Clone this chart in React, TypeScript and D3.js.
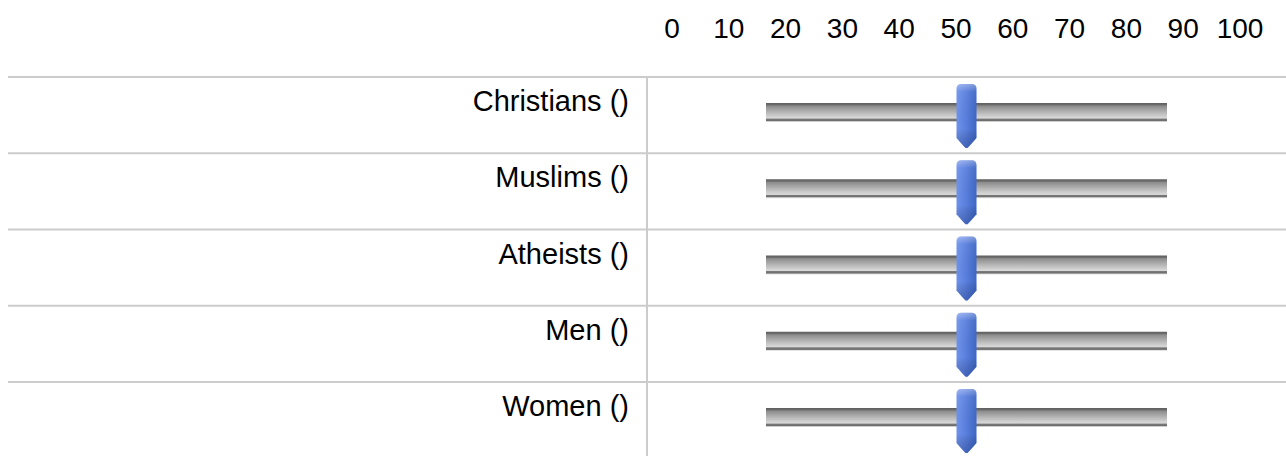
import React from 'react';
import * as d3 from 'd3';

// slider rows: group label and the position of the handle (0-100)
const categories = ['Christians ()', 'Muslims ()', 'Atheists ()', 'Men ()', 'Women ()'];
const values = [50, 50, 50, 50, 50];
const tickLabels = [0, 10, 20, 30, 40, 50, 60, 70, 80, 90, 100];

const W = 1286;
const H = 456;
const FONT = '"Liberation Sans", Arial, Helvetica, sans-serif';

const App: React.FC = () => {
  const tableTop = 77;
  const rowH = 76.25;
  const divider = 647;

  // header scale (labels above the table)
  const header = d3.scaleLinear().domain([0, 100]).range([672, 1240]);
  // slider track scale
  const x = d3.scaleLinear().domain([0, 100]).range([766, 1167]);

  const rowY = (i: number) => tableTop + i * rowH;

  const handlePath = (cx: number, top: number) => {
    const w = 20;
    const l = cx - w / 2;
    const r = cx + w / 2;
    const rad = 5;
    const sideBottom = top + 54;
    const tip = top + 64;
    return `M${l},${top + rad} Q${l},${top} ${l + rad},${top} L${r - rad},${top} Q${r},${top} ${r},${top + rad} L${r},${sideBottom} Q${cx + 4},${tip - 3} ${cx + 1},${tip} L${cx - 1},${tip} Q${cx - 4},${tip - 3} ${l},${sideBottom} Z`;
  };

  return (
    <svg
      width={W}
      height={H}
      style={{position: 'absolute', left: 0, top: 0, background: '#fff'}}
    >
      <defs>
        <linearGradient id="track-grad" x1="0" y1="0" x2="0" y2="1">
          <stop offset="0%" stopColor="#5e5e5e" />
          <stop offset="11%" stopColor="#6e6e6e" />
          <stop offset="16%" stopColor="#8c8c8c" />
          <stop offset="55%" stopColor="#bdbdbd" />
          <stop offset="80%" stopColor="#dadada" />
          <stop offset="84%" stopColor="#7a7a7a" />
          <stop offset="93%" stopColor="#6c6c6c" />
          <stop offset="96%" stopColor="#c4c4c4" />
          <stop offset="100%" stopColor="#e4e4e4" />
        </linearGradient>
        <linearGradient id="handle-h" x1="0" y1="0" x2="1" y2="0">
          <stop offset="0%" stopColor="#6f93ec" />
          <stop offset="45%" stopColor="#5b80de" />
          <stop offset="100%" stopColor="#3d66c4" />
        </linearGradient>
        <linearGradient id="handle-v" x1="0" y1="0" x2="0" y2="1">
          <stop offset="0%" stopColor="#ffffff" stopOpacity={0.35} />
          <stop offset="12%" stopColor="#ffffff" stopOpacity={0.05} />
          <stop offset="70%" stopColor="#000000" stopOpacity={0} />
          <stop offset="100%" stopColor="#0a2a70" stopOpacity={0.3} />
        </linearGradient>
      </defs>

      {/* header labels */}
      {tickLabels.map((t) => (
        <text
          key={t}
          x={header(t)}
          y={38}
          textAnchor="middle"
          fontFamily={FONT}
          fontSize={28}
          fill="#000"
        >
          {t}
        </text>
      ))}

      {/* table grid */}
      {categories.map((_, i) => (
        <line
          key={`h${i}`}
          x1={8}
          x2={W}
          y1={rowY(i)}
          y2={rowY(i)}
          stroke="#cccccc"
          strokeWidth={2}
        />
      ))}
      <line x1={divider} x2={divider} y1={tableTop} y2={H} stroke="#cccccc" strokeWidth={2} />

      {categories.map((c, i) => {
        const top = rowY(i);
        const cx = x(values[i]);
        return (
          <g key={c}>
            <text
              x={629}
              y={top + 34}
              textAnchor="end"
              fontFamily={FONT}
              fontSize={29}
              fill="#000"
            >
              {c}
            </text>
            <rect
              x={x(0)}
              y={top + 26}
              width={x(100) - x(0)}
              height={19}
              fill="url(#track-grad)"
            />
            <path d={handlePath(cx, top + 7)} fill="url(#handle-h)" />
            <path d={handlePath(cx, top + 7)} fill="url(#handle-v)" />
          </g>
        );
      })}
    </svg>
  );
};

export default App;
